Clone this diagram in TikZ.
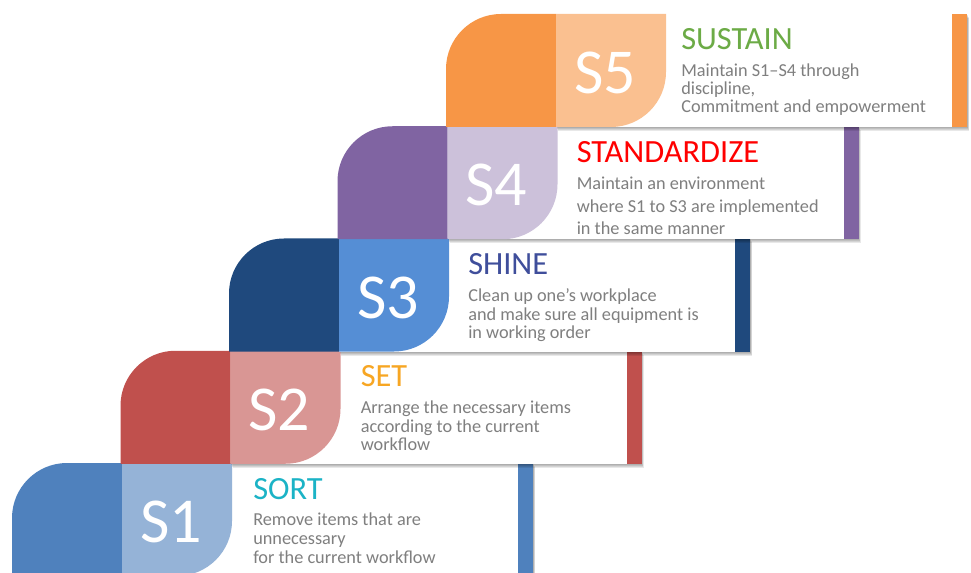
\documentclass[tikz,border=0pt]{standalone}
\usepackage{fontspec}
\setmainfont{Carlito}
\definecolor{d1}{HTML}{4F81BD}\definecolor{l1}{HTML}{95B3D7}\definecolor{t1}{HTML}{1BB3C6}
\definecolor{d2}{HTML}{C0504D}\definecolor{l2}{HTML}{D99694}\definecolor{t2}{HTML}{F7A623}
\definecolor{d3}{HTML}{1F497D}\definecolor{l3}{HTML}{558ED5}\definecolor{t3}{HTML}{3F4E9B}
\definecolor{d4}{HTML}{8064A2}\definecolor{l4}{HTML}{CCC1DA}\definecolor{t4}{HTML}{FF0000}
\definecolor{d5}{HTML}{F79646}\definecolor{l5}{HTML}{FAC090}\definecolor{t5}{HTML}{6CAB46}
\definecolor{bodygray}{HTML}{7F7F7F}
\tikzset{
  numtext/.style={text=white, font=\fontsize{48}{48}\selectfont, inner sep=0pt},
  titletext/.style={font=\fontsize{24.3}{24}\selectfont, inner sep=0pt},
  bodytext/.style={text=bodygray, inner sep=0pt, align=left},
  shadowlayer/.style={fill=black, opacity=0.09},
}
% #1 index, #2 dark, #3 light, #4 title colour, #5 title, #6 number, #7 body, #8 text x offset, #9 body baselineskip
\newcommand\fivestep[9]{%
  \pgfmathsetmacro\xo{12+108.5*#1}%
  \pgfmathsetmacro\yt{109+112.25*#1}%
  \foreach \s in {1,2,3,4}{%
    \fill[shadowlayer] ({\xo+110+0.5*\s},{\yt-113-\s}) rectangle ({\xo+110+396+15+0.5*\s},{\yt-\s});
  }%
  \fill[white] ({\xo+110},{\yt-113}) rectangle ({\xo+110+396+15},{\yt});
  \fill[#2] ({\xo+110+396},{\yt-113}) rectangle ({\xo+110+396+15},{\yt});
  \fill[#2] ({\xo+110},{\yt-113}) -- ({\xo},{\yt-113}) -- ({\xo},{\yt-55})
     arc[start angle=180, end angle=90, radius=55] -- ({\xo+110},{\yt}) -- cycle;
  \fill[#3] ({\xo+110},{\yt}) -- ({\xo+220},{\yt}) -- ({\xo+220},{\yt-113+55})
     arc[start angle=0, end angle=-90, radius=55] -- ({\xo+110},{\yt-113}) -- cycle;
  \node[numtext] (num#1) at ({\xo+159},{\yt-59}) {#6};
  \node[titletext, text=#4, anchor=base west] (title#1) at ({\xo+#8},{\yt-36}) {#5};
  \node[bodytext, font=\fontsize{13.7}{#9}\selectfont, anchor=north west] (body#1) at ({\xo+#8},{\yt-50}) {#7};
}
\begin{document}
\begin{tikzpicture}[x=0.75pt, y=0.75pt]
\useasboundingbox (0,0) rectangle (971,572);
\clip (0,0) rectangle (971,572);
\fivestep{0}{d1}{l1}{t1}{SORT}{S1}{Remove items that are\\unnecessary\\for the current workflow}{241}{13.9pt}
\fivestep{1}{d2}{l2}{t2}{SET}{S2}{Arrange the necessary items\\according to the current\\workflow}{240}{13.9pt}
\fivestep{2}{d3}{l3}{t3}{SHINE}{S3}{Clean up one’s workplace\\and make sure all equipment is\\in working order}{239}{13.9pt}
\fivestep{3}{d4}{l4}{t4}{STANDARDIZE}{S4}{Maintain an environment\\where S1 to S3 are implemented\\in the same manner}{239}{17.2pt}
\fivestep{4}{d5}{l5}{t5}{SUSTAIN}{S5}{Maintain S1–S4 through\\discipline,\\Commitment and empowerment}{235}{13.5pt}
\end{tikzpicture}
\end{document}
